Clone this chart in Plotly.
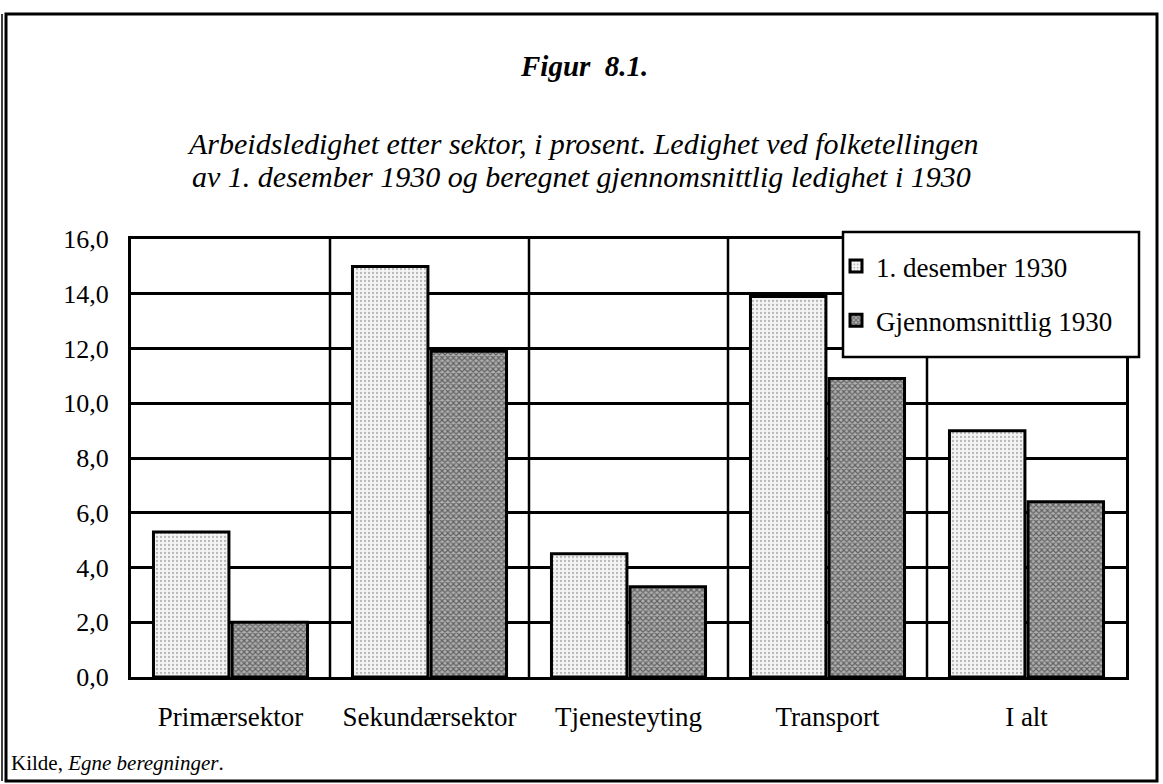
import plotly.graph_objects as go

categories = ["Primærsektor", "Sekundærsektor", "Tjenesteyting", "Transport", "I alt"]
des_1930 = [5.3, 15.0, 4.5, 13.9, 9.0]
snitt_1930 = [2.0, 11.9, 3.3, 10.9, 6.4]
series_names = ["1. desember 1930", "Gjennomsnittlig 1930"]
y_ticks = [0, 2, 4, 6, 8, 10, 12, 14, 16]

W, H = 1163, 784
L, R, T, B = 131, 1126, 239, 677

def px(x):
    return (x - L) / (R - L)

def py(y):
    return (B - y) / (B - T)

FONT = "Liberation Serif"

fig = go.Figure()
fig.add_trace(go.Bar(
    x=categories, y=des_1930, name=series_names[0], legendgroup="a",
    marker=dict(color="#e8e8e8", line=dict(color="black", width=3),
                pattern=dict(shape=".", fgcolor="#777777", bgcolor="#f4f4f4", size=4, solidity=0.25)),
))
fig.add_trace(go.Bar(
    x=categories, y=snitt_1930, name=series_names[1], legendgroup="b",
    marker=dict(color="#555555", line=dict(color="black", width=3),
                pattern=dict(shape="x", fgcolor="#111111", bgcolor="#b0b0b0", size=4, solidity=0.5)),
))

# category separators
for i in range(1, len(categories)):
    fig.add_shape(type="line", xref="x", yref="paper", x0=i - 0.5, x1=i - 0.5, y0=0, y1=1,
                  line=dict(color="black", width=2.5), layer="below")

# outer frame
fig.add_shape(type="rect", xref="paper", yref="paper",
              x0=px(6), x1=px(1157), y0=py(781), y1=py(14),
              line=dict(color="black", width=3))
fig.add_shape(type="line", xref="paper", yref="paper",
              x0=px(2), x1=px(2), y0=py(781), y1=py(14),
              line=dict(color="black", width=1.5))
# legend box
fig.add_shape(type="rect", xref="paper", yref="paper",
              x0=px(843), x1=px(1139), y0=py(357), y1=py(232),
              line=dict(color="black", width=2.5), fillcolor="white", layer="above")

fig.add_annotation(text="<b><i>Figur  8.1.</i></b>", xref="paper", yref="paper",
                   x=px(584), y=py(66), xanchor="center", yanchor="middle", showarrow=False,
                   font=dict(family=FONT, size=29, color="black"))
fig.add_annotation(text="<i>Arbeidsledighet etter sektor, i prosent. Ledighet ved folketellingen</i>",
                   xref="paper", yref="paper", x=px(583), y=py(143),
                   xanchor="center", yanchor="middle", showarrow=False,
                   font=dict(family=FONT, size=30, color="black"))
fig.add_annotation(text="<i>av 1. desember 1930 og beregnet gjennomsnittlig ledighet i 1930</i>",
                   xref="paper", yref="paper", x=px(581), y=py(177),
                   xanchor="center", yanchor="middle", showarrow=False,
                   font=dict(family=FONT, size=30, color="black"))
fig.add_annotation(text="Kilde, <i>Egne beregninger</i>.", xref="paper", yref="paper",
                   x=px(9), y=py(763), xanchor="left", yanchor="middle", showarrow=False,
                   font=dict(family=FONT, size=21, color="black"))

fig.update_layout(
    width=W, height=H,
    margin=dict(l=L, r=W - R, t=T, b=H - B, autoexpand=False),
    paper_bgcolor="white", plot_bgcolor="white",
    separators=",.",
    barmode="group", bargap=0.21, bargroupgap=0.04,
    font=dict(family=FONT, size=26, color="black"),
    legend=dict(x=px(836), y=py(242), xanchor="left", yanchor="top",
                borderwidth=0, bgcolor="rgba(0,0,0,0)",
                font=dict(family=FONT, size=27, color="black"),
                tracegroupgap=16, traceorder="grouped", itemwidth=30),
    showlegend=True,
)
fig.update_xaxes(showline=True, linecolor="black", linewidth=3, mirror=True,
                 ticks="", ticklabelstandoff=14, tickfont=dict(family=FONT, size=27))
fig.update_yaxes(range=[0, 16], tickvals=y_ticks, tickformat=".1f",
                 showgrid=True, gridcolor="black", gridwidth=2.5,
                 showline=True, linecolor="black", linewidth=3, mirror=True,
                 zeroline=False, ticks="", ticklabelstandoff=14,
                 tickfont=dict(family=FONT, size=26))

fig.write_html("out.html", config={"displayModeBar": False},
               post_script="document.body.style.margin='0';document.body.style.overflow='hidden';")
